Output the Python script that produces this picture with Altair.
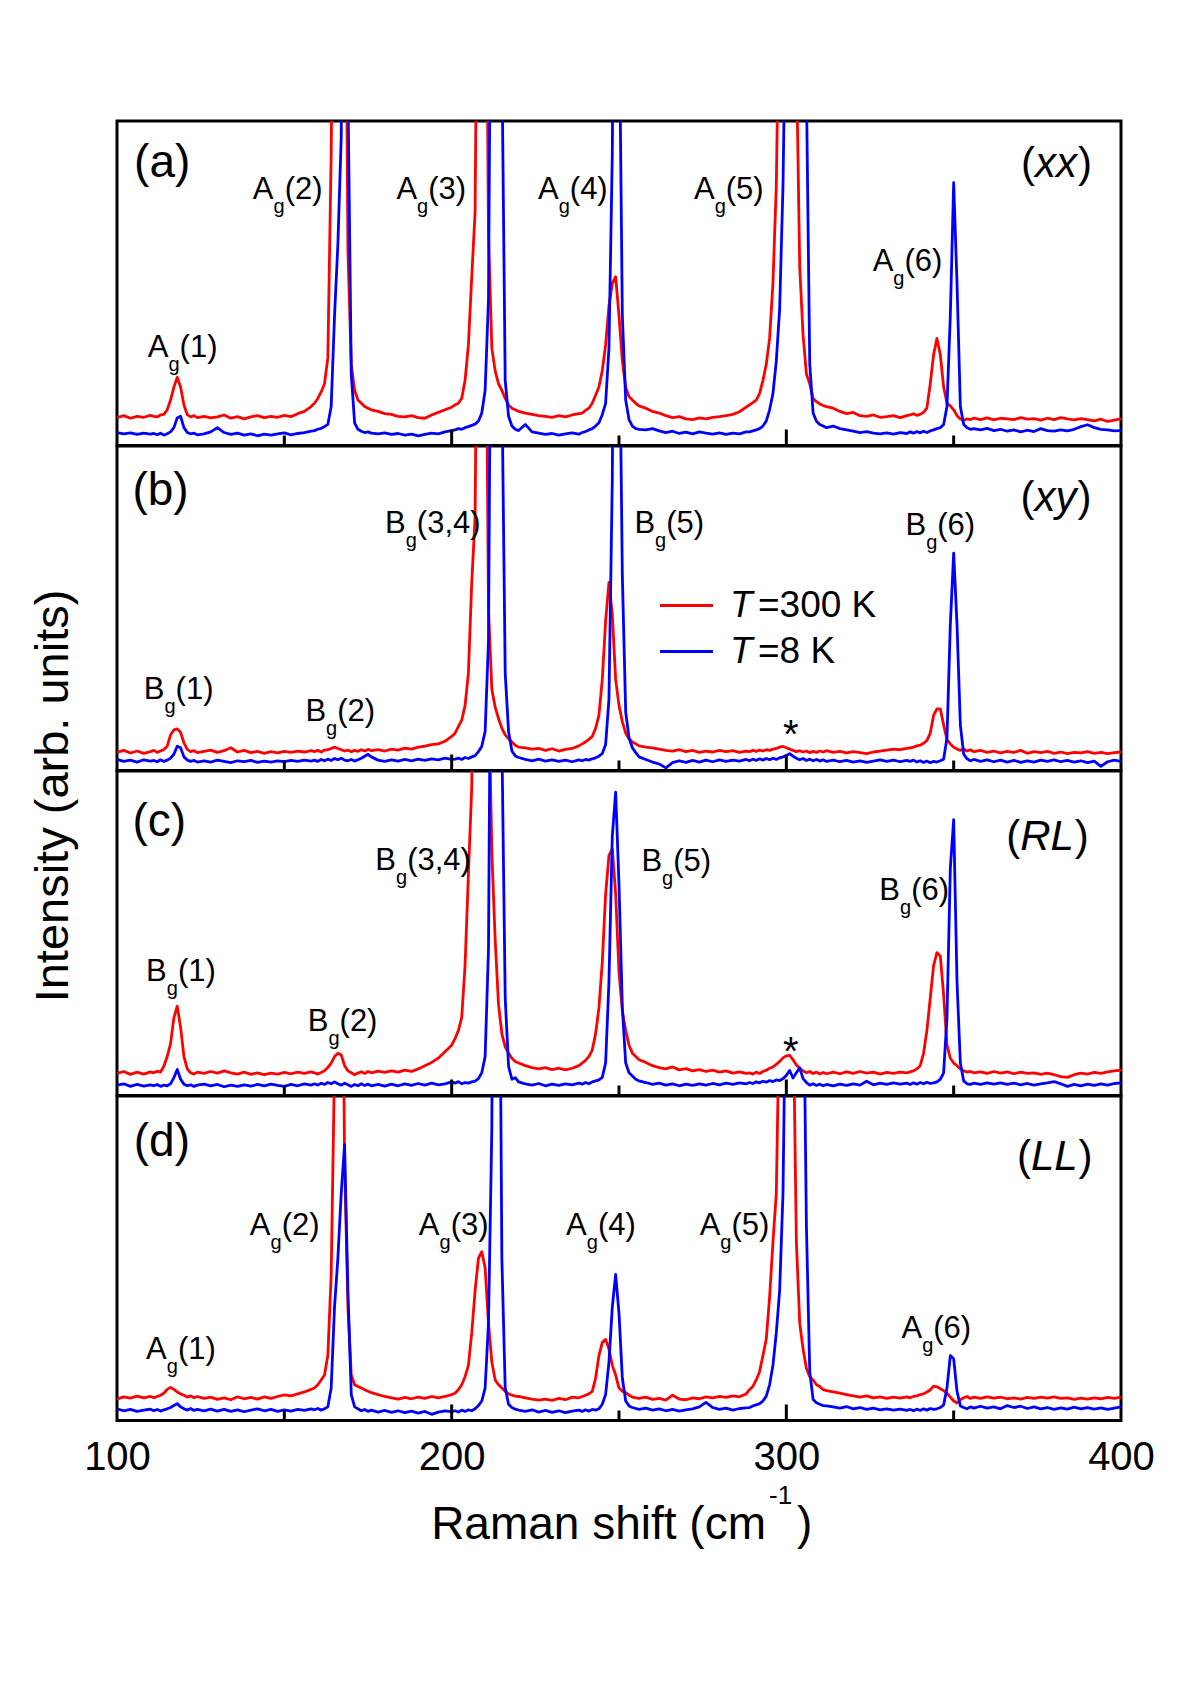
import altair as alt
import pandas as pd

FONT = "Liberation Sans"
RED = "#ff0000"
BLUE = "#0000ff"

# wavenumber grid pieces (start, stop, step): finer around the phonon lines
SEGMENTS = [(100, 110, 2), (111, 124, 1), (126, 158, 2), (159, 176, 1),
            (178, 200, 2), (201, 220, 1), (222, 238, 2), (239, 256, 1),
            (258, 288, 2), (289, 312, 1), (314, 336, 2), (337, 356, 1),
            (358, 400, 2)]

# intensities (percent of panel height), one sub-list per grid piece
RED_XX = [
    [8.6, 9.2, 8.4, 9.0, 8.7, 9.3],
    [9.0, 8.8, 9.4, 9.6, 11, 14, 18, 21, 18, 12.5, 9.5, 8.8, 9.2, 8.6],
    [9.0, 8.5, 8.8, 9.4, 8.4, 8.9, 8.2, 8.8, 9.2, 8.6, 9.0, 8.7, 9.3, 8.9, 9.8, 10.5, 12.0],
    [13, 14.5, 16.5, 19, 27, 90, 200, 300, 300, 200, 60, 25, 17, 14, 13, 12, 11.5, 11],
    [10.5, 9.8, 9.6, 9.0, 8.8, 9.2, 8.6, 8.4, 9.4, 10.2, 11, 11.8],
    [12.5, 13, 14.5, 20, 31, 52, 72, 200, 300, 200, 65, 30, 23, 19, 17, 14.5, 12.5, 11.5, 11, 10.5],
    [10, 9.6, 9.2, 9.0, 8.7, 9.2, 8.8, 9.4, 9.8],
    [10, 10.8, 11.5, 13, 15.5, 18, 23, 31, 43, 50, 52, 40, 26, 18, 15, 14, 13, 12.2],
    [11.5, 10.5, 10, 9.2, 8.6, 8.9, 8.2, 8.0, 8.5, 8.2, 8.7, 8.9, 9.2, 9.6, 10.4, 11.8],
    [12.5, 13.2, 14, 16, 20, 25, 33, 50, 80, 150, 250, 300, 300, 250, 120, 55, 34, 22, 19, 14.5, 13.5, 12.8, 12.3, 12],
    [11.5, 10.5, 9.8, 10.2, 9.2, 9.0, 9.4, 8.7, 8.9, 9.2, 8.6, 9.2],
    [9.4, 9.8, 9.3, 9.6, 10.2, 11.5, 19, 28, 33, 28, 18, 13, 12.2, 11, 9.2, 8.2, 7.8, 8.2, 8.0, 8.4],
    [8.0, 8.5, 7.9, 8.4, 8.2, 8.0, 8.6, 8.1, 8.3, 7.8, 8.4, 8.0, 8.6, 8.2, 7.9, 8.3, 8.0, 7.6, 8.1, 7.4, 7.8, 8.2],
]
BLUE_XX = [
    [4.0, 3.6, 3.9, 3.4, 3.8, 3.5],
    [3.7, 3.3, 3.8, 3.2, 3.6, 4.2, 5.5, 8.5, 9, 5.5, 4, 3.6, 3.8, 3.3],
    [3.6, 4.2, 5.5, 4.0, 3.4, 3.8, 3.2, 3.6, 3.0, 3.5, 3.2, 3.6, 3.9, 3.3, 3.7, 4.0, 4.4],
    [4.6, 5, 5.3, 5.8, 6.5, 12, 40, 62, 95, 250, 110, 22, 7, 5, 4.4, 4.0, 4.2, 3.8],
    [3.6, 3.9, 3.4, 3.7, 3.2, 3.5, 3.0, 3.4, 3.8, 3.6, 4.2, 4.6],
    [4.8, 5.2, 5.0, 5.5, 5.8, 6.2, 6.6, 7.5, 10, 17, 45, 200, 300, 250, 120, 20, 9, 6, 5, 4.6],
    [6.5, 4.2, 3.8, 3.4, 3.7, 3.2, 3.6, 3.9, 3.5],
    [4.0, 4.3, 4.8, 5.2, 6, 7, 9.5, 13, 30, 90, 250, 140, 40, 14, 8, 6, 5.2, 5],
    [4.8, 5.2, 4.5, 4.0, 4.4, 3.7, 4.1, 3.6, 4.2, 3.8, 3.5, 3.9, 3.4, 3.8, 3.6, 4.2],
    [4.2, 4.5, 4.8, 5.2, 6, 7.5, 11, 16, 26, 42, 80, 150, 250, 300, 300, 300, 200, 110, 25, 10, 7.5, 6.5, 6, 5.5],
    [6.0, 5.2, 4.8, 4.4, 4.0, 4.3, 3.8, 3.6, 3.9, 3.5, 4.0, 3.7],
    [4.2, 3.8, 4.3, 3.9, 4.4, 4.0, 4.5, 4.8, 5.2, 5.5, 6.5, 12, 40, 81, 50, 12, 6.5, 5.5, 5, 5.2],
    [4.8, 5.3, 4.6, 5.0, 4.4, 4.8, 4.2, 4.7, 4.3, 5.2, 4.6, 4.4, 4.8, 4.5, 5.0, 5.8, 6.4, 5.5, 5.0, 4.8, 4.5, 4.6],
]
RED_XY = [
    [5.6, 6.2, 5.4, 6.0, 5.3, 5.8],
    [6.2, 5.6, 6.0, 6.5, 7.5, 11, 12.5, 12.8, 11.8, 8.5, 6.5, 5.8, 6.1, 5.5],
    [5.9, 6.3, 5.6, 6.1, 7.0, 5.7, 6.2, 5.5, 5.9, 5.3, 5.8, 5.4, 5.9, 5.6, 6.0, 5.7, 6.1],
    [5.8, 6.2, 5.7, 6.3, 6.4, 6.8, 7.2, 6.8, 6.4, 6.0, 6.3, 5.8, 6.2, 5.9, 6.4, 6.0, 6.5, 6.1],
    [6.4, 6.0, 6.6, 6.3, 6.9, 6.6, 7.2, 7.5, 8.0, 8.2, 9.0, 10.5],
    [11.5, 13.5, 15.5, 20, 30, 58, 78, 200, 300, 180, 50, 25, 19.5, 16, 13, 11, 9.8, 8.8, 7.8, 7.2],
    [7.0, 6.6, 6.8, 6.2, 6.7, 6.0, 6.5, 6.8, 7.6],
    [8.2, 8.8, 9.6, 10.5, 13, 17, 28, 46, 58, 48, 28, 20, 15, 11.5, 9.8, 8.8, 8.2, 7.6],
    [7.2, 7.0, 6.6, 6.2, 6.0, 6.4, 5.8, 6.2, 5.6, 6.0, 5.7, 6.2, 5.8, 6.1, 5.6, 6.0],
    [5.8, 6.2, 5.9, 6.3, 6.0, 6.4, 6.2, 6.6, 6.8, 7.2, 7.4, 7.0, 6.6, 6.2, 5.8, 6.1, 5.7, 6.0, 5.5, 5.9, 5.6, 6.0, 5.7, 6.1],
    [5.6, 5.9, 5.4, 5.8, 5.5, 5.2, 5.7, 6.0, 6.3, 6.6, 6.4, 6.8],
    [7.0, 7.2, 7.6, 7.8, 8.4, 9.2, 11.5, 17, 19, 19, 14, 9.5, 8.2, 7.2, 6.6, 6.2, 6.6, 6.0, 6.4, 5.8],
    [6.2, 5.6, 6.0, 5.4, 5.9, 5.6, 6.2, 5.3, 5.8, 5.5, 5.9, 5.3, 5.7, 5.2, 5.6, 5.4, 5.8, 5.3, 5.6, 5.2, 5.5, 5.7],
]
BLUE_XY = [
    [3.4, 2.8, 3.2, 2.6, 3.3, 2.9],
    [3.1, 2.7, 3.3, 2.8, 3.2, 3.8, 5, 7.5, 7, 4.2, 3.2, 2.8, 3.1, 2.6],
    [3.0, 2.6, 3.2, 2.8, 2.4, 3.0, 2.7, 3.1, 2.5, 2.9, 2.6, 3.0, 2.7, 3.1, 2.8, 3.2, 2.9],
    [3.2, 2.8, 3.4, 3.0, 3.5, 3.1, 3.7, 3.3, 3.8, 3.2, 3.0, 3.4, 2.9, 3.3, 3.8, 4.4, 5.0, 4.2],
    [3.2, 2.8, 3.3, 2.9, 3.4, 3.0, 3.5, 3.1, 3.6, 3.3, 3.8, 3.4],
    [3.5, 3.8, 3.4, 4.0, 3.7, 4.2, 4.6, 5.8, 7.5, 12, 40, 200, 300, 250, 120, 30, 12, 6, 4.5, 4.0],
    [3.4, 3.0, 3.5, 2.9, 3.3, 2.8, 3.2, 2.7, 3.3],
    [3.0, 3.4, 3.2, 3.6, 3.9, 4.4, 5.2, 8, 22, 90, 250, 150, 60, 18, 10, 7, 5.5, 4.2],
    [3.4, 2.6, 2.0, 0.8, 2.4, 3.0, 2.5, 3.1, 2.6, 3.2, 2.7, 3.3, 2.8, 3.2, 2.9, 3.4],
    [3.0, 3.5, 3.1, 3.6, 3.2, 3.7, 3.3, 3.8, 3.4, 3.9, 4.2, 4.6, 5.2, 4.4, 3.8, 3.3, 3.7, 3.1, 3.5, 3.0, 3.4, 2.9, 3.3, 2.8],
    [3.2, 2.7, 3.1, 2.6, 3.0, 2.5, 2.9, 3.3, 2.8, 3.2, 2.7, 3.1],
    [2.8, 3.2, 2.6, 3.0, 2.5, 2.9, 2.4, 2.8, 2.6, 3.0, 3.5, 10, 45, 67, 45, 14, 5, 3.6, 3.0, 3.4],
    [2.8, 3.3, 2.7, 3.2, 2.6, 3.1, 2.5, 3.0, 2.6, 3.2, 2.8, 3.3, 2.7, 3.1, 2.6, 3.0, 2.4, 2.9, 1.3, 2.7, 3.2, 2.8],
]
RED_RL = [
    [6.8, 7.4, 6.5, 7.2, 6.6, 7.3],
    [7.0, 7.5, 7.2, 9, 12, 16, 24, 27.5, 21, 12, 8.2, 7.0, 6.6, 7.2],
    [6.8, 7.4, 6.9, 7.6, 7.0, 6.6, 7.2, 6.5, 7.0, 6.4, 6.9, 6.6, 7.1, 6.7, 7.2, 6.8, 7.3],
    [7.0, 6.6, 7.1, 7.6, 8.6, 10, 12, 13, 12.5, 9.2, 7.6, 7.0, 6.4, 6.9, 7.3, 6.8, 7.4, 7.0],
    [7.5, 7.1, 7.6, 7.2, 7.8, 7.4, 8.2, 9.2, 10.2, 11.5, 13.5, 15.5],
    [17.5, 20, 24, 40, 68, 95, 200, 300, 300, 250, 130, 75, 48, 28, 19, 15, 13, 11.5, 10.5, 10],
    [9.2, 8.6, 8.2, 8.6, 8.0, 8.4, 7.9, 8.4, 9.2],
    [10, 10.8, 12, 14, 19, 27, 41, 62, 74, 76, 62, 38, 26, 20, 15.5, 13, 12, 11],
    [10.2, 9.2, 8.6, 8.2, 8.8, 7.9, 8.3, 7.6, 8.0, 7.4, 7.8, 7.2, 7.6, 6.9, 7.3, 6.8],
    [7.0, 6.6, 7.2, 6.8, 7.4, 7.8, 8.4, 8.8, 9.6, 10.5, 11.6, 12.2, 12.4, 11, 9.4, 8.4, 7.6, 7.0, 7.4, 6.8, 7.2, 6.6, 7.1, 6.7],
    [7.2, 6.7, 7.3, 6.8, 7.4, 6.9, 7.2, 6.6, 7.1, 6.8, 7.2, 7.0],
    [7.3, 7.6, 8.2, 9.2, 13, 20, 30, 40, 44, 43, 31, 15.5, 11.5, 10, 9.2, 8.2, 7.6, 7.2, 7.4, 7.0],
    [7.3, 6.8, 7.4, 6.9, 7.3, 6.7, 7.2, 6.8, 7.0, 6.5, 6.9, 6.4, 5.8, 5.6, 6.4, 6.9, 6.6, 7.1, 6.8, 7.3, 7.6, 7.8],
]
BLUE_RL = [
    [3.2, 3.6, 2.8, 3.4, 2.9, 3.3],
    [3.0, 3.4, 2.8, 3.2, 3.0, 3.6, 5.5, 8, 5, 3.5, 3.0, 3.3, 2.8, 3.2],
    [3.5, 3.0, 3.4, 2.7, 3.2, 2.8, 3.3, 2.9, 3.4, 3.0, 3.5, 3.1, 2.8, 3.4, 3.0, 3.6, 3.2],
    [3.6, 3.2, 3.8, 3.4, 4.0, 3.6, 4.2, 3.6, 3.2, 3.8, 3.3, 2.8, 3.4, 3.0, 3.6, 3.1, 3.5, 3.0],
    [3.4, 2.9, 3.5, 3.0, 3.6, 3.1, 3.7, 3.2, 3.8, 3.3, 3.6, 4.2],
    [3.8, 4.3, 3.6, 4.0, 3.8, 4.2, 4.4, 5.2, 7, 12, 45, 200, 300, 250, 110, 30, 9, 5, 5.5, 4.2],
    [3.6, 3.2, 3.7, 3.0, 3.5, 3.1, 3.6, 3.3, 3.8],
    [3.5, 4.0, 3.6, 4.2, 4.5, 4.8, 5.6, 10, 35, 80, 93.5, 65, 27, 10, 7, 6, 5, 4.5],
    [4.0, 3.4, 3.8, 3.2, 3.6, 3.0, 3.5, 3.1, 3.6, 3.2, 3.7, 3.3, 3.8, 3.4, 3.9, 3.6],
    [4.0, 3.7, 4.2, 3.9, 4.4, 4.1, 4.6, 4.3, 4.8, 4.6, 5.2, 6.2, 7.7, 5.4, 7.0, 8.5, 5.2, 4.0, 3.2, 3.6, 3.1, 3.5, 3.0, 3.4],
    [3.0, 3.5, 3.1, 3.6, 3.2, 4.4, 3.3, 3.8, 3.4, 3.9, 3.5, 3.8],
    [3.4, 3.9, 3.5, 4.0, 3.6, 4.1, 3.7, 3.9, 4.2, 5, 7, 24, 70, 85, 35, 10, 4.5, 3.6, 3.4, 3.8],
    [3.4, 3.9, 3.5, 3.9, 3.4, 3.8, 3.3, 3.7, 3.2, 3.6, 3.9, 4.3, 3.6, 2.8, 3.4, 3.0, 3.5, 3.1, 3.6, 3.2, 3.7, 3.9],
]
RED_LL = [
    [6.6, 7.3, 6.9, 7.5, 7.0, 7.4],
    [7.0, 7.4, 7.8, 8.4, 9.6, 10.2, 9.6, 8.8, 8.2, 7.8, 7.2, 7.6, 7.0, 7.4],
    [6.8, 7.2, 6.5, 7.0, 6.4, 7.3, 6.7, 7.1, 6.6, 7.3, 6.8, 7.4, 7.9, 7.6, 8.2, 8.8, 9.6],
    [10, 11, 12.5, 14, 20, 45, 110, 300, 200, 80, 35, 14, 11, 10.5, 10, 9.5, 9, 8.6],
    [8.0, 7.4, 7.0, 6.6, 7.1, 6.7, 7.2, 6.8, 7.4, 7.0, 7.4, 8.0],
    [8.4, 9.5, 11, 13.5, 17, 27, 40, 50, 52, 47, 30, 18, 12.5, 11, 10, 9, 8.2, 7.8, 7.5, 7.4],
    [7.0, 6.6, 6.3, 6.6, 6.2, 6.8, 6.4, 7.2, 7.0],
    [7.4, 7.8, 8.2, 9, 13, 20, 24, 25, 22, 17, 14, 10, 9, 8.6, 7.8, 7.2, 7.0, 6.8],
    [7.2, 6.5, 6.8, 6.3, 7.8, 6.6, 6.4, 7.0, 6.7, 7.3, 7.0, 7.4, 7.1, 7.6, 7.3, 8.2],
    [9.5, 10.5, 12.5, 15, 20, 25, 38, 55, 70, 130, 250, 300, 250, 130, 55, 30, 22, 16, 13.5, 12.5, 11, 10.5, 9.5, 9.2],
    [8.8, 8.4, 8.0, 7.6, 7.2, 7.6, 7.0, 7.3, 6.8, 7.2, 6.9, 7.3],
    [7.0, 7.4, 7.6, 8.0, 8.2, 8.8, 9.4, 10.6, 10.4, 9.8, 9.2, 8.4, 7.2, 6.0, 5.4, 6.4, 7.0, 7.4, 6.8, 7.2],
    [6.8, 7.3, 6.9, 7.2, 6.7, 7.0, 6.6, 7.1, 6.8, 7.2, 6.9, 7.3, 6.8, 7.0, 6.5, 6.9, 6.6, 7.0, 6.7, 7.1, 6.8, 7.2],
]
BLUE_LL = [
    [3.6, 3.0, 3.4, 2.8, 3.2, 3.5],
    [3.0, 3.4, 2.9, 3.3, 3.6, 4.0, 4.6, 5.2, 4.2, 3.6, 3.2, 3.7, 3.1, 3.4],
    [3.0, 3.5, 2.9, 3.4, 2.8, 3.3, 2.7, 3.2, 3.6, 3.0, 3.4, 2.8, 3.3, 2.9, 3.4, 3.1, 3.6],
    [3.3, 3.7, 3.2, 3.6, 4.2, 10, 35, 50, 70, 85, 40, 8, 4.2, 3.6, 3.0, 3.4, 2.8, 3.2],
    [2.6, 3.1, 2.5, 3.0, 2.4, 2.9, 2.3, 2.8, 1.9, 2.6, 3.0, 2.7],
    [3.0, 2.6, 3.2, 2.8, 3.3, 3.0, 3.6, 4.6, 6, 10, 30, 90, 300, 200, 50, 10, 5, 4, 3.5, 3.2],
    [2.8, 3.3, 2.6, 3.1, 2.5, 3.0, 2.4, 2.9, 3.2],
    [2.8, 3.3, 2.9, 3.4, 3.2, 3.6, 5, 8, 18, 35, 45, 33, 13, 6, 4.5, 4.0, 3.7, 3.4],
    [3.8, 3.2, 3.6, 3.0, 3.4, 2.9, 3.3, 3.6, 4.2, 5.6, 4.0, 3.4, 3.8, 3.2, 3.7, 3.9],
    [4.0, 4.5, 4.8, 5.2, 6, 7.5, 11, 17, 27, 40, 70, 150, 300, 300, 300, 250, 150, 60, 15, 6.5, 5.5, 5, 4.6, 4.5],
    [4.2, 3.8, 4.3, 3.6, 4.0, 3.4, 3.8, 3.3, 3.6, 3.2, 3.5, 3.1],
    [3.4, 3.0, 3.5, 3.1, 3.6, 3.2, 3.7, 3.4, 3.6, 4.0, 4.8, 10, 20, 19, 9, 4.5, 4.0, 3.6, 4.2, 3.8],
    [4.4, 3.8, 4.2, 3.6, 4.6, 4.0, 4.4, 3.7, 4.2, 3.6, 4.0, 3.4, 3.9, 3.5, 4.1, 3.6, 4.0, 3.5, 3.9, 3.4, 3.8, 4.2],
]

# peak labels: (letter, index text, x position [cm-1], baseline [% of panel])
PEAKS_XX = [("A", "(1)", 109.2, 27.2), ("A", "(2)", 140.6, 76.0), ("A", "(3)", 183.5, 76.0),
            ("A", "(4)", 225.8, 76.0), ("A", "(5)", 272.4, 76.0), ("A", "(6)", 325.8, 53.9)]
PEAKS_XY = [("B", "(1)", 108.0, 21.9), ("B", "(2)", 156.3, 15.3), ("B", "(3,4)", 180.1, 73.2),
            ("B", "(5)", 254.6, 73.2), ("B", "(6)", 335.6, 72.7)]
PEAKS_RL = [("B", "(1)", 108.7, 35.3), ("B", "(2)", 157.0, 19.9), ("B", "(3,4)", 177.2, 69.6),
            ("B", "(5)", 256.7, 69.1), ("B", "(6)", 327.8, 60.2)]
PEAKS_LL = [("A", "(1)", 108.7, 19.1), ("A", "(2)", 139.7, 57.2), ("A", "(3)", 190.2, 57.2),
            ("A", "(4)", 234.2, 57.2), ("A", "(5)", 274.1, 57.2), ("A", "(6)", 334.4, 25.3)]
TAGS = [("(a)", 105.1, 82.7), ("(b)", 104.6, 81.9), ("(c)", 104.6, 79.9), ("(d)", 105.0, 81.4)]
POLS = [("xx", 370.1, 82.7), ("xy", 370.0, 80.0), ("RL", 365.7, 75.6), ("LL", 368.9, 77.1)]
STARS_XY = [(301.3, 7.0)]
STARS_RL = [(301.3, 9.3)]

X_LABELS = [100, 200, 300, 400]
MAJOR_TICKS = [200, 300]
MINOR_TICKS = [150, 250, 350]
LEGEND = ["=300 K", "=8 K"]

W = 1004
H = 324.5
POL_FS = 42
ITALIC_W = {"x": 0.5, "y": 0.5, "R": 0.722, "L": 0.556}
PK_FS = 31
SUB_FS = 20


def expand(values):
    xs, ys = [], []
    for (a, b, s), seg in zip(SEGMENTS, values):
        for x, v in zip(range(a, b + 1, s), seg):
            xs.append(x)
            ys.append(v)
    return xs, ys


XS = alt.Scale(domain=[100, 400], nice=False)
YS = alt.Scale(domain=[0, 100], nice=False, zero=False)


def make_panel(red, blue, tag, pol, peaks, stars, bottom=False, legend=False):
    if bottom:
        xaxis = alt.Axis(values=X_LABELS, labelFontSize=40, labelFont=FONT, labelColor="black",
                         domain=False, ticks=False, tickSize=0, grid=False, labelPadding=17,
                         labelFlush=False, labelOverlap=False)
    else:
        xaxis = None
    xenc = alt.X("shift:Q", scale=XS, axis=xaxis, title=None)
    yenc = alt.Y("intensity:Q", scale=YS, axis=None, title=None)

    layers = []
    for vals, col, name in ((red, RED, "T=300 K"), (blue, BLUE, "T=8 K")):
        xs, ys = expand(vals)
        d = pd.DataFrame({"shift": xs, "intensity": ys, "series": name})
        layers.append(alt.Chart(d).mark_line(clip=True, strokeWidth=2.8, strokeJoin="round",
                                             color=col).encode(x=xenc, y=yenc))

    layers.append(alt.Chart(pd.DataFrame({"shift": MAJOR_TICKS})).mark_rule(
        color="black", strokeWidth=3).encode(x=xenc, y=alt.value(H), y2=alt.value(H - 16)))
    layers.append(alt.Chart(pd.DataFrame({"shift": MINOR_TICKS})).mark_rule(
        color="black", strokeWidth=3).encode(x=xenc, y=alt.value(H), y2=alt.value(H - 10)))

    pk = pd.DataFrame({"main": [p[0] for p in peaks], "rest": [p[1] for p in peaks],
                       "shift": [p[2] for p in peaks], "intensity": [p[3] for p in peaks]})
    txt = dict(font=FONT, color="black", align="left", baseline="alphabetic")
    w_main = 0.667 * PK_FS
    w_sub = 0.556 * SUB_FS
    layers.append(alt.Chart(pk).mark_text(fontSize=PK_FS, **txt).encode(x=xenc, y=yenc, text="main:N"))
    layers.append(alt.Chart(pk).mark_text(fontSize=SUB_FS, dx=w_main, dy=14, **txt).encode(
        x=xenc, y=yenc, text=alt.value("g")))
    layers.append(alt.Chart(pk).mark_text(fontSize=PK_FS, dx=w_main + w_sub, **txt).encode(
        x=xenc, y=yenc, text="rest:N"))

    tg = pd.DataFrame({"t": [tag[0]], "shift": [tag[1]], "intensity": [tag[2]]})
    layers.append(alt.Chart(tg).mark_text(fontSize=46, **txt).encode(x=xenc, y=yenc, text="t:N"))

    pw = sum(ITALIC_W[c] for c in pol[0]) * POL_FS
    po = pd.DataFrame({"t": [pol[0]], "shift": [pol[1]], "intensity": [pol[2]]})
    layers.append(alt.Chart(po).mark_text(fontSize=POL_FS, **txt).encode(
        x=xenc, y=yenc, text=alt.value("(")))
    layers.append(alt.Chart(po).mark_text(fontSize=POL_FS, fontStyle="italic", dx=0.333 * POL_FS, **txt).encode(
        x=xenc, y=yenc, text="t:N"))
    layers.append(alt.Chart(po).mark_text(fontSize=POL_FS, dx=0.333 * POL_FS + pw + 1, **txt).encode(
        x=xenc, y=yenc, text=alt.value(")")))

    if stars:
        st = pd.DataFrame({"shift": [s[0] for s in stars], "intensity": [s[1] for s in stars]})
        layers.append(alt.Chart(st).mark_text(fontSize=40, font=FONT, color="black", align="center",
                                              baseline="alphabetic").encode(x=xenc, y=yenc, text=alt.value("*")))

    one = pd.DataFrame({"k": [0]})
    if legend:
        for i, (lab, col) in enumerate(zip(LEGEND, (RED, BLUE))):
            yy = 159.5 + 46 * i
            layers.append(alt.Chart(one).mark_rule(color=col, strokeWidth=3).encode(
                x=alt.value(543), x2=alt.value(596), y=alt.value(yy)))
            layers.append(alt.Chart(one).mark_text(font=FONT, fontSize=37, fontStyle="italic", align="left",
                                                   baseline="middle", color="black").encode(
                x=alt.value(613), y=alt.value(yy), text=alt.value("T")))
            layers.append(alt.Chart(one).mark_text(font=FONT, fontSize=37, align="left",
                                                   baseline="middle", color="black").encode(
                x=alt.value(641), y=alt.value(yy), text=alt.value(lab)))

    if bottom:
        layers.append(alt.Chart(one).mark_text(font=FONT, fontSize=46, align="right",
                                               baseline="alphabetic", color="black").encode(
            x=alt.value(649), y=alt.value(443), text=alt.value("Raman shift (cm")))
        layers.append(alt.Chart(one).mark_text(font=FONT, fontSize=26, align="left",
                                               baseline="alphabetic", color="black").encode(
            x=alt.value(652), y=alt.value(408), text=alt.value("-1")))
        layers.append(alt.Chart(one).mark_text(font=FONT, fontSize=46, align="left",
                                               baseline="alphabetic", color="black").encode(
            x=alt.value(680), y=alt.value(443), text=alt.value(")")))

    return alt.layer(*layers).properties(width=W, height=H)


pa = make_panel(RED_XX, BLUE_XX, TAGS[0], POLS[0], PEAKS_XX, [])
pb = make_panel(RED_XY, BLUE_XY, TAGS[1], POLS[1], PEAKS_XY, STARS_XY, legend=True)
pc = make_panel(RED_RL, BLUE_RL, TAGS[2], POLS[2], PEAKS_RL, STARS_RL)
pd_ = make_panel(RED_LL, BLUE_LL, TAGS[3], POLS[3], PEAKS_LL, [], bottom=True)

ytitle = alt.Chart(pd.DataFrame({"t": ["Intensity (arb. units)"]})).mark_text(
    angle=270, fontSize=47, font=FONT, color="black", align="center", baseline="middle"
).encode(x=alt.value(54), y=alt.value(675), text="t:N").properties(
    width=117, height=4 * H, view=alt.ViewBackground(stroke="transparent", strokeWidth=0))

panels = alt.vconcat(pa, pb, pc, pd_, spacing=0, bounds="flush")
chart = alt.hconcat(ytitle, panels, spacing=0, bounds="flush").properties(
    padding={"left": 0, "top": 119, "right": 10, "bottom": 10},
    background="white",
).configure(font=FONT).configure_view(stroke="black", strokeWidth=3)

chart.save("out.html", embed_options={"renderer": "svg", "actions": False})
